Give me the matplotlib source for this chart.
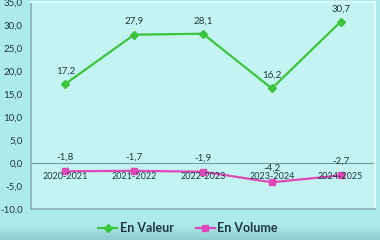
import numpy as np
import matplotlib.pyplot as plt

plt.rcParams['font.family'] = ['Lato', 'DejaVu Sans']

years = ['2020-2021', '2021-2022', '2022-2023', '2023-2024', '2024-2025']
valeur = [17.2, 27.9, 28.1, 16.2, 30.7]
volume = [-1.8, -1.7, -1.9, -4.2, -2.7]
yticks = [-10, -5, 0, 5, 10, 15, 20, 25, 30, 35]

GREEN = '#3cc43c'
PINK = '#e048b8'
TEXT = '#1f3545'

fig = plt.figure(figsize=(3.8, 2.4), dpi=100)
fig.patch.set_facecolor('#a8e8e8')

# background, a bit darker towards the bottom
bg = fig.add_axes([0, 0, 1, 1], zorder=-10)
grad = np.linspace(0, 1, 240)[:, None]
c_top = np.array([0.68, 0.92, 0.92])
c_bot = np.array([0.56, 0.80, 0.82])
w = np.clip((grad - 0.94) / 0.06, 0, 1)
img = c_top * (1 - w[..., None]) + c_bot * w[..., None]
bg.imshow(img, aspect='auto', extent=[0, 1, 0, 1])
bg.axis('off')

ax = fig.add_axes([31 / 380, 1 - 209 / 240, 344 / 380, 207 / 240])
ax.set_facecolor('#c4f4f2')
x = np.arange(len(years))

ax.plot(x, valeur, color=GREEN, lw=1.6, marker='D', ms=4, label='En Valeur')
ax.plot(x, volume, color=PINK, lw=1.6, marker='s', ms=5, label='En Volume')
ax.axhline(0, color='#7a9a9a', lw=0.8, zorder=1)

for xi, v in zip(x, valeur):
    ax.annotate(f'{v:.1f}'.replace('.', ','), (xi, v), xytext=(0, 13),
                textcoords='offset pixels', ha='center', va='center',
                fontsize=7, color=TEXT)
for xi, v in zip(x, volume):
    ax.annotate(f'{v:.1f}'.replace('.', ','), (xi, v), xytext=(0, 14),
                textcoords='offset pixels', ha='center', va='center',
                fontsize=7, color=TEXT)
    ax.text(xi, -3.0, years[xi], ha='center', va='center', fontsize=6.5, color=TEXT)

ax.set_xlim(-0.5, len(years) - 0.5)
ax.set_ylim(-10, 35)
ax.set_yticks(yticks)
ax.set_yticklabels([f'{t:.1f}'.replace('.', ',') for t in yticks], fontsize=7, color=TEXT)
ax.set_xticks([])
ax.tick_params(axis='y', length=0, pad=6)
for side in ['top', 'right']:
    ax.spines[side].set_color('#e8ffff')
    ax.spines[side].set_linewidth(1.2)
for side in ['left', 'bottom']:
    ax.spines[side].set_color('#8aaeb0')
    ax.spines[side].set_linewidth(1.2)

leg = fig.legend(loc='center', bbox_to_anchor=(188 / 380, 1 - 228 / 240), ncol=2,
                 frameon=False, handlelength=1.5, columnspacing=1.8, handletextpad=0.2,
                 prop={'weight': 'bold', 'size': 9})
for t in leg.get_texts():
    t.set_color(TEXT)

fig.savefig('out.png', dpi=100, facecolor=fig.get_facecolor())
